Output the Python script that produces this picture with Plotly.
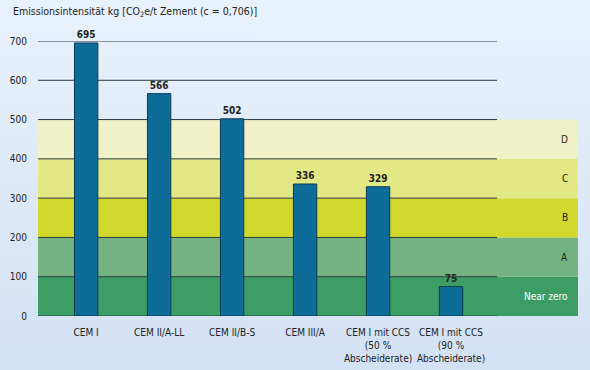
import plotly.graph_objects as go

categories = ["CEM I", "CEM II/A-LL", "CEM II/B-S", "CEM III/A",
              "CEM I mit CCS<br>(50 %<br>Abscheiderate)",
              "CEM I mit CCS<br>(90 %<br>Abscheiderate)"]
values = [695, 566, 502, 336, 329, 75]
value_labels = ["695", "566", "502", "336", "329", "75"]

band_names = ["Near zero", "A", "B", "C", "D"]
band_lower = [0, 100, 200, 300, 400]
band_upper = [100, 200, 300, 400, 500]
band_colors = ["#3c9e64", "#74b282", "#d3d92c", "#e3e886", "#eff2c6"]
band_text_colors = ["white", "#222222", "#222222", "#222222", "#222222"]

y_ticks = [0, 100, 200, 300, 400, 500, 600, 700]

FONT = "DejaVu Sans Condensed, Liberation Sans Narrow, Roboto, sans-serif"

fig = go.Figure()
fig.add_trace(go.Bar(
    x=list(range(len(categories))), y=values,
    width=0.32,
    marker=dict(color="#0e6d98", line=dict(color="#0a3a52", width=1)),
    text=value_labels, textposition="outside", cliponaxis=False,
    textfont=dict(family=FONT, size=10, color="#222222"),
    texttemplate="<b>%{text}</b>",
    hoverinfo="skip",
))

shapes = []
for lo, hi, col in zip(band_lower, band_upper, band_colors):
    shapes.append(dict(type="rect", xref="paper", yref="y", x0=0, x1=1,
                       y0=lo, y1=hi, fillcolor=col, line=dict(width=0),
                       layer="below"))
grid_end = 5.63
for t in y_ticks:
    shapes.append(dict(type="line", xref="x", yref="y", x0=-0.66, x1=grid_end,
                       y0=t, y1=t, line=dict(color="#2b3a40", width=1),
                       layer="below"))

annotations = []
for lo, hi, name, tc in zip(band_lower, band_upper, band_names, band_text_colors):
    annotations.append(dict(xref="paper", yref="y", x=1, y=(lo + hi) / 2,
                            xanchor="right", xshift=-8, text=name,
                            showarrow=False,
                            font=dict(family=FONT, size=10, color=tc)))
annotations.append(dict(xref="paper", yref="paper", x=0, y=1,
                        xshift=-27, yshift=20, xanchor="left", yanchor="bottom",
                        text="Emissionsintensität kg [CO<sub>2</sub>e/t Zement (c = 0,706)]",
                        showarrow=False,
                        font=dict(family=FONT, size=10.5, color="#222222")))

fig.update_layout(
    width=590, height=370,
    margin=dict(l=38, r=12, t=41, b=54),
    paper_bgcolor="rgba(0,0,0,0)", plot_bgcolor="rgba(0,0,0,0)",
    showlegend=False,
    shapes=shapes, annotations=annotations,
    xaxis=dict(range=[-0.66, 6.74], tickmode="array",
               tickvals=list(range(len(categories))), ticktext=categories,
               tickangle=0, automargin=False, ticklabelstandoff=9,
               showgrid=False, zeroline=False, showline=False, ticks="",
               tickfont=dict(family=FONT, size=10, color="#222222")),
    yaxis=dict(range=[0, 700], tickvals=y_ticks, showgrid=False, automargin=False,
               zeroline=False, showline=False, ticks="", ticklabelstandoff=10,
               tickfont=dict(family=FONT, size=10, color="#222222")),
)

page_js = ("document.body.style.margin='0';"
           "document.body.style.overflow='hidden';"
           "document.body.style.minHeight='370px';"
           "document.body.style.background='linear-gradient(180deg, #e9f2fc 0%, #d2e1f3 100%)';")

fig.write_html("out.html", post_script=page_js,
               config={"displayModeBar": False, "staticPlot": True})
